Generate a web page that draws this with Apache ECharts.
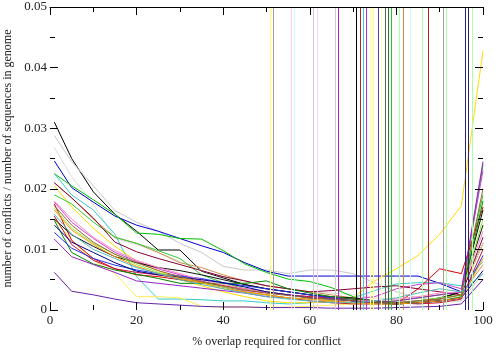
<!DOCTYPE html>
<html>
<head>
<meta charset="utf-8">
<script src="https://cdn.jsdelivr.net/npm/echarts@6/dist/echarts.min.js"></script>
<style>
html,body{margin:0;padding:0;background:#fff;}
#chart_content{width:499px;height:355px;}
</style>
</head>
<body>
<div id="chart_content"></div>
<script>
// x 取值 (% overlap)
var overlap_pct = [1,5,10,15,20,25,30,35,40,45,50,55,60,65,70,75,80,85,90,95,100];
var x_ticks = [0,20,40,60,80,100];
var y_ticks = [0,0.01,0.02,0.03,0.04,0.05];

// 各条曲线的数值
var black_a  = [0.031,0.025,0.0195,0.0158,0.013,0.0099,0.0099,0.0064,0.0053,0.0042,0.0035,0.003,0.0025,0.002,0.0015,0.0012,0.001,0.0012,0.0018,0.003,0.0165];
var gray_a   = [0.0288,0.0245,0.0205,0.0164,0.0145,0.013,0.011,0.0095,0.0072,0.0066,0.0066,0.006,0.0066,0.0066,0.006,0.0045,0.003,0.002,0.0015,0.0015,0.006];
var gray_b   = [0.0268,0.022,0.0175,0.0118,0.0108,0.0095,0.008,0.0065,0.0055,0.0045,0.004,0.0035,0.003,0.0028,0.0025,0.002,0.0018,0.0015,0.0012,0.0015,0.005];
var blue_a   = [0.0246,0.0202,0.0178,0.0155,0.014,0.013,0.0118,0.0106,0.0095,0.0078,0.0064,0.0056,0.0056,0.0056,0.0056,0.0056,0.0056,0.0056,0.0044,0.003,0.011];
var green_a  = [0.0225,0.0205,0.0182,0.0158,0.0127,0.0125,0.0118,0.0117,0.0098,0.0076,0.0062,0.0051,0.0047,0.0037,0.0022,0.0012,0.001,0.0012,0.0015,0.0022,0.024];
var cyan_a   = [0.0225,0.019,0.0165,0.0125,0.0055,0.0018,0.0018,0.0017,0.0015,0.0015,0.0012,0.001,0.0012,0.0015,0.002,0.0032,0.0043,0.0045,0.0045,0.004,0.008];
var tan_a    = [0.021,0.0185,0.015,0.012,0.011,0.0095,0.0078,0.007,0.0058,0.0048,0.004,0.0035,0.003,0.0025,0.002,0.0015,0.0012,0.0012,0.0018,0.0025,0.0075];
var yellow_a = [0.0205,0.017,0.0135,0.0105,0.0081,0.0065,0.005,0.004,0.003,0.0022,0.0015,0.0012,0.0012,0.0015,0.002,0.0048,0.0068,0.009,0.0125,0.0172,0.0428];
var yellow_b = [0.015,0.0115,0.0082,0.006,0.0022,0.0022,0.002,0.0006,0.0005,0.0005,0.0004,0.0005,0.0006,0.0008,0.001,0.0012,0.0015,0.002,0.0025,0.003,0.011];
var green_b  = [0.019,0.0175,0.0145,0.012,0.011,0.0098,0.0085,0.0058,0.0045,0.0035,0.003,0.0025,0.002,0.0018,0.0015,0.0012,0.0015,0.002,0.0025,0.003,0.019];
var magenta_a= [0.0178,0.0145,0.0118,0.0095,0.008,0.0068,0.0058,0.0048,0.0038,0.0032,0.0028,0.0025,0.0022,0.002,0.0018,0.0022,0.0035,0.0042,0.0045,0.0035,0.023];
var red_a    = [0.0175,0.0115,0.0085,0.0068,0.0058,0.0055,0.005,0.0045,0.0038,0.003,0.0025,0.002,0.0015,0.0012,0.001,0.001,0.001,0.0035,0.0068,0.006,0.017];
var maroon_a = [0.021,0.0185,0.0152,0.0112,0.0096,0.0085,0.0075,0.0065,0.0055,0.0048,0.004,0.0035,0.003,0.0032,0.0035,0.0038,0.004,0.0035,0.003,0.0025,0.012];
var black_b  = [0.015,0.0124,0.0105,0.0088,0.0078,0.007,0.0065,0.0058,0.005,0.0042,0.0035,0.003,0.0025,0.0022,0.002,0.0015,0.0012,0.0015,0.002,0.003,0.014];
var red_b    = [0.0155,0.0108,0.0082,0.0068,0.0062,0.0058,0.0052,0.0046,0.004,0.0035,0.003,0.0025,0.0022,0.002,0.0018,0.0015,0.0012,0.001,0.0012,0.0018,0.01];
var dkgreen_a= [0.0148,0.0095,0.0076,0.0066,0.0059,0.0052,0.0044,0.0044,0.0044,0.0044,0.0048,0.0035,0.0028,0.0022,0.0018,0.0015,0.0012,0.0012,0.0015,0.002,0.018];
var blue_b   = [0.0128,0.0102,0.0085,0.0074,0.0066,0.006,0.0056,0.0052,0.0045,0.004,0.0035,0.003,0.0025,0.002,0.0015,0.0012,0.001,0.0012,0.0015,0.002,0.009];
var purple_a = [0.0117,0.0088,0.0075,0.0062,0.0048,0.0044,0.004,0.0036,0.0032,0.0028,0.0022,0.002,0.0018,0.0015,0.0012,0.0012,0.0015,0.002,0.0025,0.003,0.0245];
var violet_a = [0.0062,0.0031,0.0025,0.0018,0.0012,0.001,0.0008,0.0006,0.0005,0.0005,0.0004,0.0004,0.0004,0.0003,0.0003,0.0003,0.0004,0.0005,0.0006,0.001,0.005];
var pink_a   = [0.018,0.015,0.012,0.0098,0.0082,0.007,0.006,0.005,0.0042,0.0035,0.003,0.0025,0.002,0.0018,0.0015,0.0015,0.0018,0.0022,0.0028,0.003,0.013];
var lime_a   = [0.0168,0.0135,0.011,0.0092,0.0075,0.0062,0.0052,0.0045,0.0038,0.003,0.0025,0.002,0.0018,0.0015,0.0012,0.001,0.0012,0.0015,0.002,0.0025,0.015];
var navy_a   = [0.014,0.0112,0.0095,0.0078,0.0064,0.0058,0.0054,0.005,0.0045,0.0038,0.003,0.0025,0.002,0.0018,0.0015,0.0012,0.001,0.0012,0.0015,0.002,0.0065];
var orange_a = [0.0165,0.0132,0.0108,0.0088,0.0072,0.006,0.0052,0.0045,0.0035,0.003,0.0025,0.002,0.0018,0.0015,0.0012,0.001,0.001,0.0012,0.0015,0.002,0.0085];
var brown_a  = [0.0172,0.014,0.0112,0.0092,0.0078,0.0065,0.0055,0.0047,0.004,0.0033,0.0028,0.0024,0.002,0.0018,0.0015,0.0012,0.0012,0.0015,0.0018,0.0025,0.02];
var teal_a   = [0.0158,0.0125,0.01,0.0085,0.007,0.006,0.005,0.0042,0.0035,0.0028,0.0022,0.0018,0.0015,0.0012,0.0012,0.0015,0.002,0.0028,0.0035,0.003,0.006];

// 冲出上边界的竖线位置 (% overlap)
var spike_x = [50.9,51.5,55.8,56.4,60.8,61.7,65.9,66.5,70.7,71.6,72.3,73.0,74.0,74.7,75.8,76.5,77.4,78.1,78.9,80.7,81.5,83.1,85.9,87.4,90.8,91.5,95.8,96.6,97.5];

var font_family = "'Liberation Serif', 'DejaVu Serif', serif";

// 曲线与颜色
var line_list = [
	[black_a, "#000000"], [gray_a, "#c8c8c8"], [gray_b, "#dcdcdc"], [blue_a, "#0000cc"],
	[green_a, "#00c000"], [cyan_a, "#33cccc"], [tan_a, "#d09050"], [yellow_a, "#ffdd00"],
	[yellow_b, "#ffee55"], [green_b, "#33cc33"], [magenta_a, "#cc44cc"], [red_a, "#dd0000"],
	[maroon_a, "#880033"], [black_b, "#111111"], [red_b, "#cc1133"], [dkgreen_a, "#008800"],
	[blue_b, "#2233ee"], [purple_a, "#9922cc"], [violet_a, "#6622aa"], [pink_a, "#ff88cc"],
	[lime_a, "#88ee44"], [navy_a, "#000088"], [orange_a, "#ff9900"], [brown_a, "#996633"],
	[teal_a, "#55bbbb"]
];
var spike_colors = ["#ffff66","#aa9999","#ffccff","#ccffff","#cccccc","#ffccff","#cccccc","#aa22cc",
	"#000000","#aa2222","#44cccc","#bb33cc","#ffff99","#ffff66","#6633aa","#ffffaa","#556655",
	"#227722","#33bb33","#aaffaa","#cc8844","#ddeeff","#aaffaa","#aa2222","#aa9999","#aaffaa",
	"#222288","#332266","#aaffaa"];

function build_series(){
	var series = [];
	// 竖线
	var mark_data = [];
	for(var k = 0; k < spike_x.length; k++){
		mark_data.push({ xAxis: spike_x[k], lineStyle: { color: spike_colors[k], width: 1, type: "solid" } });
	}
	series.push({
		type: "line",
		data: [],
		silent: true,
		markLine: { symbol: ["none","none"], silent: true, label: { show: false }, animation: false, data: mark_data }
	});
	for(var i = 0; i < line_list.length; i++){
		var pts = [];
		for(var j = 0; j < overlap_pct.length; j++){
			pts.push([overlap_pct[j], line_list[i][0][j]]);
		}
		series.push({
			type: "line",
			data: pts,
			showSymbol: false,
			clip: true,
			lineStyle: { color: line_list[i][1], width: 1 },
			itemStyle: { color: line_list[i][1] }
		});
	}
	return series;
}

function tick_style(){
	return { show: true, inside: true, length: 8, lineStyle: { color: "#000", width: 1 } };
}
function minor_style(){
	return { show: true, splitNumber: 2, length: 5, lineStyle: { color: "#000", width: 1 } };
}

var myChart = echarts.init(document.getElementById("chart_content"));
var option = {
	animation: false,
	backgroundColor: "#fff",
	grid: { left: 50, right: 16, top: 7, bottom: 45, outerBoundsMode: "none", containLabel: false },
	xAxis: [{
		type: "value",
		min: x_ticks[0],
		max: x_ticks[x_ticks.length - 1],
		interval: 20,
		position: "bottom",
		name: "% overlap required for conflict",
		nameLocation: "middle",
		nameGap: 26,
		nameTextStyle: { fontFamily: font_family, fontSize: 12, color: "#222" },
		axisLine: { show: false, onZero: false },
		axisTick: tick_style(),
		minorTick: minor_style(),
		splitLine: { show: false },
		axisLabel: { fontFamily: font_family, fontSize: 13, color: "#222", margin: 4 },
		z: 10
	}, {
		type: "value",
		min: x_ticks[0],
		max: x_ticks[x_ticks.length - 1],
		interval: 20,
		position: "top",
		axisLine: { show: true, onZero: false, lineStyle: { color: "#000", width: 1 } },
		axisTick: tick_style(),
		minorTick: minor_style(),
		splitLine: { show: false },
		axisLabel: { show: false },
		z: 10
	}],
	yAxis: [{
		type: "value",
		min: y_ticks[0],
		max: y_ticks[y_ticks.length - 1],
		interval: 0.01,
		position: "left",
		name: "number of conflicts / number of sequences in genome",
		nameLocation: "middle",
		nameGap: 32,
		nameTextStyle: { fontFamily: font_family, fontSize: 12, color: "#222" },
		axisLine: { show: false, onZero: false },
		axisTick: tick_style(),
		minorTick: minor_style(),
		splitLine: { show: false },
		axisLabel: { fontFamily: font_family, fontSize: 13, color: "#222", margin: 3 },
		z: 10
	}, {
		type: "value",
		min: y_ticks[0],
		max: y_ticks[y_ticks.length - 1],
		interval: 0.01,
		position: "right",
		axisLine: { show: false, onZero: false },
		axisTick: tick_style(),
		minorTick: minor_style(),
		splitLine: { show: false },
		axisLabel: { show: false },
		z: 10
	}],
	series: build_series()
};
myChart.setOption(option, true);
</script>
</body>
</html>
